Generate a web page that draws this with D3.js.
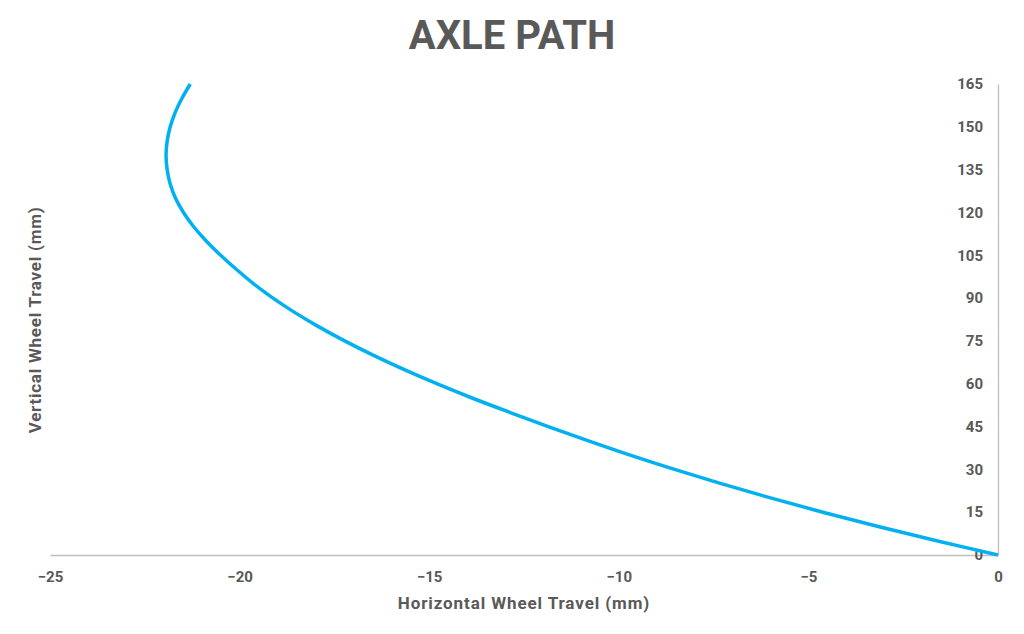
<!DOCTYPE html>
<html>
<head>
<meta charset="utf-8">
<script src="https://cdn.jsdelivr.net/npm/d3@7"></script>
<style>
  body { margin: 0; background: #fff; }
  text { font-family: Roboto, 'Liberation Sans', sans-serif; }
</style>
</head>
<body>
<div id="chart"></div>
<script>
// vertical wheel travel (mm)
const travelY = [0, 5, 10, 15, 20, 25, 30, 35, 40, 45, 50, 55, 60, 65, 70, 75, 80, 85,
  90, 95, 100, 105, 110, 115, 120, 125, 130, 135, 140, 145, 150, 155, 160, 165]
// horizontal wheel travel (mm) at each of those heights
const travelX = [0, -1.62, -3.16, -4.62, -6.0, -7.3, -8.53, -9.7, -10.8, -11.86, -12.88, -13.87,
  -14.8, -15.67, -16.48, -17.23, -17.92, -18.55, -19.12, -19.63, -20.08, -20.5, -20.88, -21.21,
  -21.48, -21.69, -21.83, -21.91, -21.94, -21.91, -21.83, -21.7, -21.52, -21.3]
const xTicks = [-25, -20, -15, -10, -5, 0]
const yTicks = [0, 15, 30, 45, 60, 75, 90, 105, 120, 135, 150, 165]

const data = travelY.map((y, i) => ({ x: travelX[i], y: y }))

let margin = {top: 84, right: 26, bottom: 79, left: 50},
    width = 1024 - margin.left - margin.right,
    height = 634 - margin.top - margin.bottom

let svg = d3.select('#chart').append('svg')
            .attr('width', 1024)
            .attr('height', 634)

let g = svg.append('g')
           .attr('transform', 'translate(' + margin.left + ',' + margin.top + ')')

let x = d3.scaleLinear().domain([-25, 0]).range([0, width])
let y = d3.scaleLinear().domain([0, 165]).range([height, 0])

let xAxis = d3.axisBottom(x).tickValues(xTicks).tickSize(0).tickPadding(16)
let yAxis = d3.axisLeft(y).tickValues(yTicks).tickSize(0).tickPadding(15)

g.append('g')
 .attr('class', 'x axis')
 .attr('transform', 'translate(0,' + height + ')')
 .call(xAxis)

g.append('g')
 .attr('class', 'y axis')
 .attr('transform', 'translate(' + width + ',0)')
 .call(yAxis)

svg.selectAll('.axis .domain').attr('stroke', '#bfbfbf').attr('stroke-width', 1.3)
svg.selectAll('.axis text')
   .attr('fill', '#595959')
   .attr('font-size', 15)
   .attr('font-weight', 'bold')

// title
svg.append('text')
   .attr('x', 512)
   .attr('y', 49)
   .attr('text-anchor', 'middle')
   .attr('fill', '#595959')
   .attr('font-size', 40)
   .attr('font-weight', 'bold')
   .text('AXLE PATH')

svg.append('text')
   .attr('x', 524)
   .attr('y', 609)
   .attr('text-anchor', 'middle')
   .attr('fill', '#595959')
   .attr('font-size', 17)
   .attr('font-weight', 'bold')
   .attr('letter-spacing', 0.9)
   .text('Horizontal Wheel Travel (mm)')

svg.append('text')
   .attr('transform', 'translate(41,320) rotate(-90)')
   .attr('text-anchor', 'middle')
   .attr('fill', '#595959')
   .attr('font-size', 17)
   .attr('font-weight', 'bold')
   .attr('letter-spacing', 0.75)
   .text('Vertical Wheel Travel (mm)')

let line = d3.line()
             .x((d) => x(d.x))
             .y((d) => y(d.y))
             .curve(d3.curveCatmullRom)

g.append('path')
 .datum(data)
 .attr('fill', 'none')
 .attr('stroke', '#00b0f0')
 .attr('stroke-width', 3.5)
 .attr('d', line)
</script>
</body>
</html>
